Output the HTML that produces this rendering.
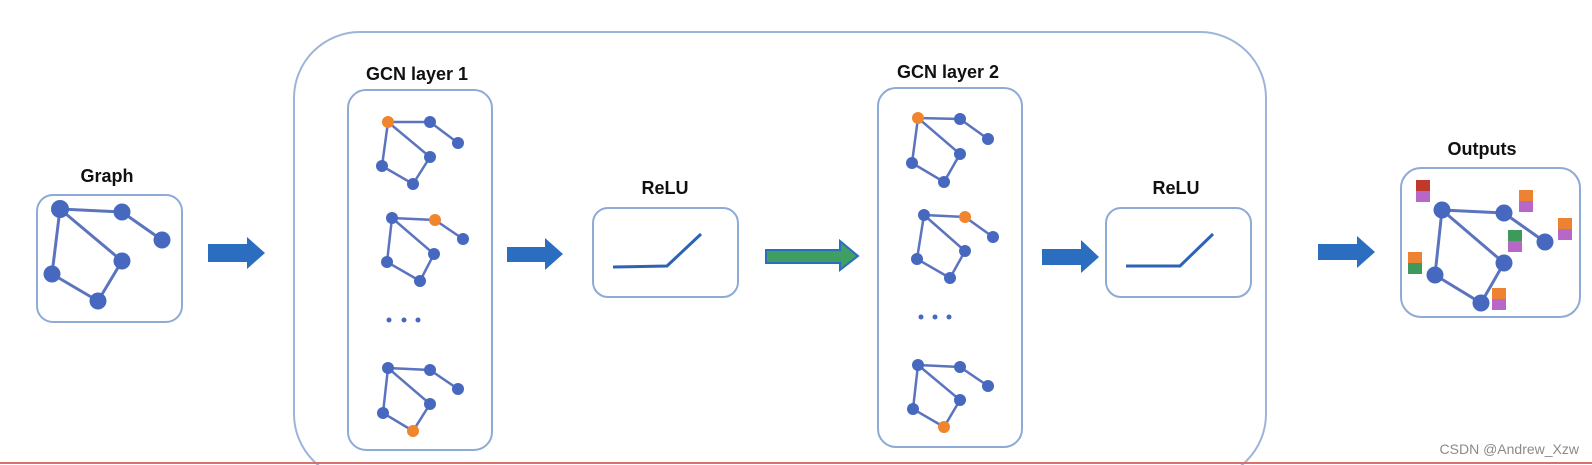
<!DOCTYPE html>
<html><head><meta charset="utf-8"><style>
html,body{margin:0;padding:0;background:#fff;width:1592px;height:465px;overflow:hidden;}
svg{display:block;}
text{font-family:"Liberation Sans",Arial,sans-serif;font-weight:bold;fill:#111;}
</style></head><body>
<svg width="1592" height="465" viewBox="0 0 1592 465" xmlns="http://www.w3.org/2000/svg">
<defs><clipPath id="c"><rect x="0" y="0" width="1592" height="465"/></clipPath></defs>
<rect x="294" y="32" width="972" height="448" rx="66" fill="none" stroke="#9db5da" stroke-width="2" clip-path="url(#c)"/>
<!-- Graph -->
<text x="107" y="182" font-size="18" text-anchor="middle">Graph</text>
<rect x="37" y="195" width="145" height="127" rx="16" fill="none" stroke="#8eaad6" stroke-width="2"/>
<g stroke="#5b74bd" stroke-width="3" fill="none">
<polyline points="60,209 122,212 162,240"/><polyline points="60,209 122,261 98,301 52,274 60,209"/>
</g>
<g fill="#4668bf"><circle cx="60" cy="209" r="9"/><circle cx="122" cy="212" r="8.5"/><circle cx="162" cy="240" r="8.5"/><circle cx="122" cy="261" r="8.5"/><circle cx="52" cy="274" r="8.5"/><circle cx="98" cy="301" r="8.5"/></g>
<!-- arrows -->
<g fill="#2b6dbf">
<polygon points="208,244 247,244 247,237 265,253 247,269 247,262 208,262"/>
<polygon points="507,247 545,247 545,238 563,254 545,270 545,262 507,262"/>
<polygon points="1042,249 1081,249 1081,240 1099,257 1081,273 1081,265 1042,265"/>
<polygon points="1318,244 1357,244 1357,236 1375,252 1357,268 1357,260 1318,260"/>
</g>
<polygon points="766,250 840,250 840,241 858,256 840,270 840,263 766,263" fill="#3f9e62" stroke="#2b6dbf" stroke-width="2"/>
<!-- GCN boxes -->
<text x="417" y="80" font-size="18" text-anchor="middle">GCN layer 1</text>
<rect x="348" y="90" width="144" height="360" rx="18" fill="none" stroke="#8eaad6" stroke-width="2"/>
<text x="948" y="78" font-size="18" text-anchor="middle">GCN layer 2</text>
<rect x="878" y="88" width="144" height="359" rx="18" fill="none" stroke="#8eaad6" stroke-width="2"/>
<g stroke="#5b74bd" stroke-width="2.5" fill="none">
<polyline points="388,122 430,122 458,143"/><polyline points="388,122 430,157 413,184 382,166 388,122"/>
<polyline points="392,218 435,220 463,239"/><polyline points="392,218 434,254 420,281 387,262 392,218"/>
<polyline points="388,368 430,370 458,389"/><polyline points="388,368 430,404 413,431 383,413 388,368"/>
<polyline points="918,118 960,119 988,139"/><polyline points="918,118 960,154 944,182 912,163 918,118"/>
<polyline points="924,215 965,217 993,237"/><polyline points="924,215 965,251 950,278 917,259 924,215"/>
<polyline points="918,365 960,367 988,386"/><polyline points="918,365 960,400 944,427 913,409 918,365"/>
</g>
<g fill="#4668bf">
<circle cx="430" cy="122" r="6"/><circle cx="458" cy="143" r="6"/><circle cx="430" cy="157" r="6"/><circle cx="382" cy="166" r="6"/><circle cx="413" cy="184" r="6"/>
<circle cx="392" cy="218" r="6"/><circle cx="463" cy="239" r="6"/><circle cx="434" cy="254" r="6"/><circle cx="387" cy="262" r="6"/><circle cx="420" cy="281" r="6"/>
<circle cx="388" cy="368" r="6"/><circle cx="430" cy="370" r="6"/><circle cx="458" cy="389" r="6"/><circle cx="430" cy="404" r="6"/><circle cx="383" cy="413" r="6"/>
<circle cx="960" cy="119" r="6"/><circle cx="988" cy="139" r="6"/><circle cx="960" cy="154" r="6"/><circle cx="912" cy="163" r="6"/><circle cx="944" cy="182" r="6"/>
<circle cx="924" cy="215" r="6"/><circle cx="993" cy="237" r="6"/><circle cx="965" cy="251" r="6"/><circle cx="917" cy="259" r="6"/><circle cx="950" cy="278" r="6"/>
<circle cx="918" cy="365" r="6"/><circle cx="960" cy="367" r="6"/><circle cx="988" cy="386" r="6"/><circle cx="960" cy="400" r="6"/><circle cx="913" cy="409" r="6"/>
<circle cx="389" cy="320" r="2.5"/><circle cx="404" cy="320" r="2.5"/><circle cx="418" cy="320" r="2.5"/>
<circle cx="921" cy="317" r="2.5"/><circle cx="935" cy="317" r="2.5"/><circle cx="949" cy="317" r="2.5"/>
</g>
<g fill="#f0852d">
<circle cx="388" cy="122" r="6"/><circle cx="435" cy="220" r="6"/><circle cx="413" cy="431" r="6"/>
<circle cx="918" cy="118" r="6"/><circle cx="965" cy="217" r="6"/><circle cx="944" cy="427" r="6"/>
</g>
<!-- ReLU boxes -->
<text x="665" y="194" font-size="18" text-anchor="middle">ReLU</text>
<rect x="593" y="208" width="145" height="89" rx="15" fill="none" stroke="#8eaad6" stroke-width="2"/>
<polyline points="613,267 667,266 701,234" fill="none" stroke="#2e62b5" stroke-width="3"/>
<text x="1176" y="194" font-size="18" text-anchor="middle">ReLU</text>
<rect x="1106" y="208" width="145" height="89" rx="15" fill="none" stroke="#8eaad6" stroke-width="2"/>
<polyline points="1126,266 1180,266 1213,234" fill="none" stroke="#2e62b5" stroke-width="3"/>
<!-- Outputs -->
<text x="1482" y="155" font-size="18" text-anchor="middle">Outputs</text>
<rect x="1401" y="168" width="179" height="149" rx="20" fill="none" stroke="#8eaad6" stroke-width="2"/>
<g stroke="#5b74bd" stroke-width="3" fill="none">
<polyline points="1442,210 1504,213 1545,242"/><polyline points="1442,210 1504,263 1481,303 1435,275 1442,210"/>
</g>
<g fill="#4668bf"><circle cx="1442" cy="210" r="8.5"/><circle cx="1504" cy="213" r="8.5"/><circle cx="1545" cy="242" r="8.5"/><circle cx="1504" cy="263" r="8.5"/><circle cx="1435" cy="275" r="8.5"/><circle cx="1481" cy="303" r="8.5"/></g>
<g>
<rect x="1416" y="180" width="14" height="11" fill="#c0392b"/><rect x="1416" y="191" width="14" height="11" fill="#b667c8"/>
<rect x="1519" y="190" width="14" height="11" fill="#ee8233"/><rect x="1519" y="201" width="14" height="11" fill="#b667c8"/>
<rect x="1558" y="218" width="14" height="11" fill="#ee8233"/><rect x="1558" y="229" width="14" height="11" fill="#b667c8"/>
<rect x="1508" y="230" width="14" height="11" fill="#3d9a5a"/><rect x="1508" y="241" width="14" height="11" fill="#b667c8"/>
<rect x="1408" y="252" width="14" height="11" fill="#ee8233"/><rect x="1408" y="263" width="14" height="11" fill="#3d9a5a"/>
<rect x="1492" y="288" width="14" height="11" fill="#ee8233"/><rect x="1492" y="299" width="14" height="11" fill="#b667c8"/>
</g>
<text x="1579" y="454" font-size="14" text-anchor="end" style="font-weight:normal;fill:#8a8a8a">CSDN @Andrew_Xzw</text>
<line x1="0" y1="463" x2="1592" y2="463" stroke="#d9706b" stroke-width="2"/>
</svg>
</body></html>
